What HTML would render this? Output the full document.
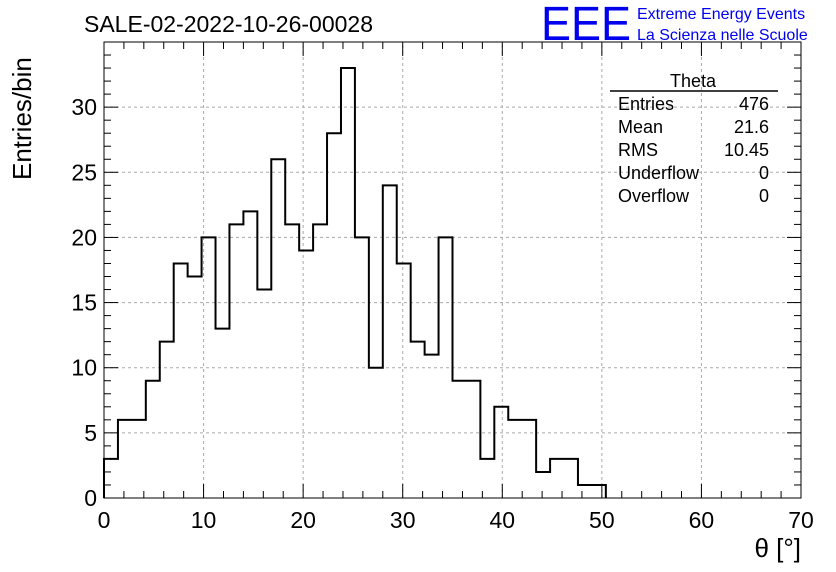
<!DOCTYPE html>
<html><head><meta charset="utf-8"><style>
body{margin:0;background:#fff;}
svg{display:block;font-family:"Liberation Sans",Arial,sans-serif;}
</style></head><body>
<svg id="chart" width="836" height="572" viewBox="0 0 836 572">
<rect width="836" height="572" fill="#fff"/>
<g id="grid"></g>
<path id="hist" fill="none" stroke="#000" stroke-width="2"/>
<rect x="104" y="42" width="697" height="456" fill="none" stroke="#000" stroke-width="1"/>
<g id="ticks"></g>
<text x="84" y="32" font-size="23">SALE-02-2022-10-26-00028</text>
<text x="541" y="40" font-size="48" fill="#0000ee" textLength="90" lengthAdjust="spacingAndGlyphs">EEE</text>
<text x="637" y="19" font-size="16" fill="#0000ee">Extreme Energy Events</text>
<text x="637" y="40" font-size="16" fill="#0000ee">La Scienza nelle Scuole</text>
<text transform="translate(31,180) rotate(-90)" font-size="26">Entries/bin</text>
<text x="801" y="557" font-size="26" text-anchor="end">θ [°]</text>
<g font-size="18">
<text x="693" y="87" text-anchor="middle">Theta</text>
<line x1="610" y1="91" x2="778" y2="91" stroke="#000" stroke-width="1.5"/>
<text x="618" y="110">Entries</text><text x="769" y="110" text-anchor="end">476</text>
<text x="618" y="133">Mean</text><text x="769" y="133" text-anchor="end">21.6</text>
<text x="618" y="156">RMS</text><text x="769" y="156" text-anchor="end">10.45</text>
<text x="618" y="179">Underflow</text><text x="769" y="179" text-anchor="end">0</text>
<text x="618" y="202">Overflow</text><text x="769" y="202" text-anchor="end">0</text>
</g>
<g id="labels"></g>
</svg>
<script>
const counts=[3,6,6,9,12,18,17,20,13,21,22,16,26,21,19,21,28,33,20,10,24,18,12,11,20,9,9,3,7,6,6,2,3,3,1,1,0,0,0,0,0,0,0,0,0,0,0,0,0,0];
const binWidth=1.4;
const xTicks=[0,10,20,30,40,50,60,70];
const yTicks=[0,5,10,15,20,25,30];
const X0=104,X1=801,Y0=498,Y1=42;
const xs=v=>X0+(v/70)*(X1-X0);
const ys=v=>Y0-(v/35)*(Y0-Y1);
const NS="http://www.w3.org/2000/svg";
function mk(t,a,p){const e=document.createElementNS(NS,t);for(const k in a)e.setAttribute(k,a[k]);p.appendChild(e);return e;}
let last=counts.length;while(last>0&&counts[last-1]===0)last--;
let d=`M${xs(0)},${ys(0)}`;
counts.slice(0,last).forEach((c,i)=>{d+=` L${xs(i*binWidth)},${ys(c)} L${xs((i+1)*binWidth)},${ys(c)}`;});
d+=` L${xs(last*binWidth)},${ys(0)}`;
document.getElementById('hist').setAttribute('d',d);
const g=document.getElementById('grid'),tk=document.getElementById('ticks'),lb=document.getElementById('labels');
xTicks.forEach(v=>{
 if(v>0&&v<70){const l=mk('line',{x1:xs(v),x2:xs(v),y1:Y0,y2:Y1,stroke:'#aaa','stroke-dasharray':'3,3'},g);
 
 }
 const t=mk('text',{x:xs(v),y:528,'font-size':23,'text-anchor':'middle'},lb);t.textContent=v;
 
 
});
yTicks.forEach(v=>{
 if(v>0){const l=mk('line',{x1:X0,x2:X1,y1:ys(v),y2:ys(v),stroke:'#aaa','stroke-dasharray':'3,3'},g);
 
 }
 const t=mk('text',{x:97,y:ys(v)+8,'font-size':23,'text-anchor':'end'},lb);t.textContent=v;
 
 
});
for(let v=0;v<=70;v+=2){const L=v%10===0?14:7;
 mk('line',{x1:xs(v),x2:xs(v),y1:Y0,y2:Y0-L,stroke:'#000'},tk);
 mk('line',{x1:xs(v),x2:xs(v),y1:Y1,y2:Y1+L,stroke:'#000'},tk);}
for(let v=0;v<=35;v+=1){const L=v%5===0?14:7;
 mk('line',{x1:X0,x2:X0+L,y1:ys(v),y2:ys(v),stroke:'#000'},tk);
 mk('line',{x1:X1,x2:X1-L,y1:ys(v),y2:ys(v),stroke:'#000'},tk);}
</script>
</body></html>
